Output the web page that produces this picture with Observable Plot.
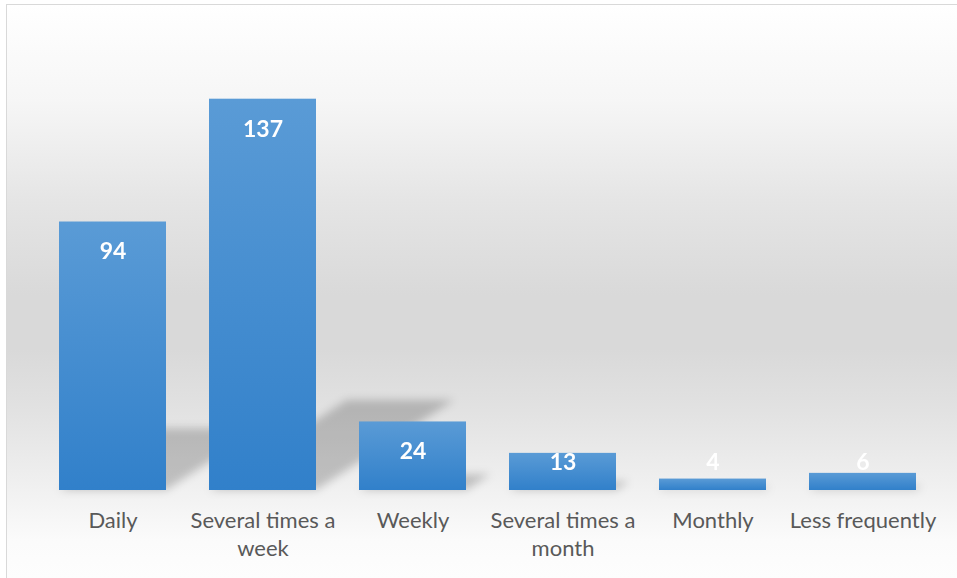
<!DOCTYPE html>
<html>
<head>
<meta charset="utf-8">
<script src="https://cdn.jsdelivr.net/npm/d3@7"></script>
<script src="https://cdn.jsdelivr.net/npm/@observablehq/plot@0.6"></script>
<style>
html, body { margin: 0; padding: 0; background: #fff; }
#wrap { position: relative; width: 957px; height: 578px; overflow: hidden; }
#bg {
  position: absolute; left: 6px; top: 4px; width: 980px; height: 600px;
  box-sizing: border-box; border: 1px solid #d9d9d9;
  background: linear-gradient(to bottom,
    #ffffff 0px, #f6f6f6 96px, #e5e5e5 196px, #d9d9d9 290px, #d9d9d9 345px,
    #e1e1e1 400px, #efefef 476px, #fbfbfb 536px, #fdfdfd 574px);
}
#chart { position: absolute; left: 0; top: 0; }
</style>
</head>
<body>
<div id="wrap"><div id="bg"></div><div id="chart"></div></div>
<script>
const categories = ["Daily", "Several times a week", "Weekly", "Several times a month", "Monthly", "Less frequently"];
const counts = [94, 137, 24, 13, 4, 6];
const tickLabels = ["Daily", "Several times a\nweek", "Weekly", "Several times a\nmonth", "Monthly", "Less frequently"];

const data = categories.map((c, i) => ({category: c, count: counts[i]}));

const svg = Plot.plot({
  width: 957,
  height: 578,
  marginTop: 33,
  marginBottom: 88,
  marginLeft: 58,
  marginRight: 40,
  style: {background: "transparent", fontFamily: "Lato, 'Open Sans', sans-serif", overflow: "visible"},
  x: {domain: categories, paddingInner: 0.287, paddingOuter: 0},
  y: {domain: [0, 160], axis: null},
  marks: [
    Plot.barY(data, {x: "category", y: "count", fill: "#000", fillOpacity: 0.2}),
    Plot.barY(data, {x: "category", y: "count", fill: "url(#barGrad)"}),
    Plot.text(data, {
      x: "category",
      y: d => Math.max(d.count, 20.3),
      dy: 30,
      text: d => String(d.count),
      fill: "white",
      fontWeight: "bold",
      fontSize: 23
    }),
    Plot.axisX({
      tickSize: 0,
      tickPadding: 17,
      fontSize: 22,
      lineHeight: 1.3,
      fill: "#595959",
      tickFormat: d => tickLabels[categories.indexOf(d)],
      label: null
    })
  ]
});

const root = d3.select(svg);
const defs = root.insert("defs", ":first-child");
const grad = defs.append("linearGradient").attr("id", "barGrad")
  .attr("x1", 0).attr("y1", 0).attr("x2", 0).attr("y2", 1);
grad.append("stop").attr("offset", "0%").attr("stop-color", "#5a9bd6");
grad.append("stop").attr("offset", "100%").attr("stop-color", "#3180ca");
defs.append("filter").attr("id", "shadowBlur")
  .attr("x", "-30%").attr("y", "-30%").attr("width", "160%").attr("height", "160%")
  .append("feGaussianBlur").attr("stdDeviation", 4);

const y0 = svg.scale("y").apply(0);
const k = 0.23, sk = 0.352;
const barGroups = root.selectAll('g[aria-label="bar"]').nodes();
d3.select(barGroups[0])
  .attr("filter", "url(#shadowBlur)")
  .selectAll("rect")
  .attr("transform", `matrix(1,0,${-sk},${k},${sk * y0},${(1 - k) * y0})`);

document.getElementById("chart").appendChild(svg);
</script>
</body>
</html>
